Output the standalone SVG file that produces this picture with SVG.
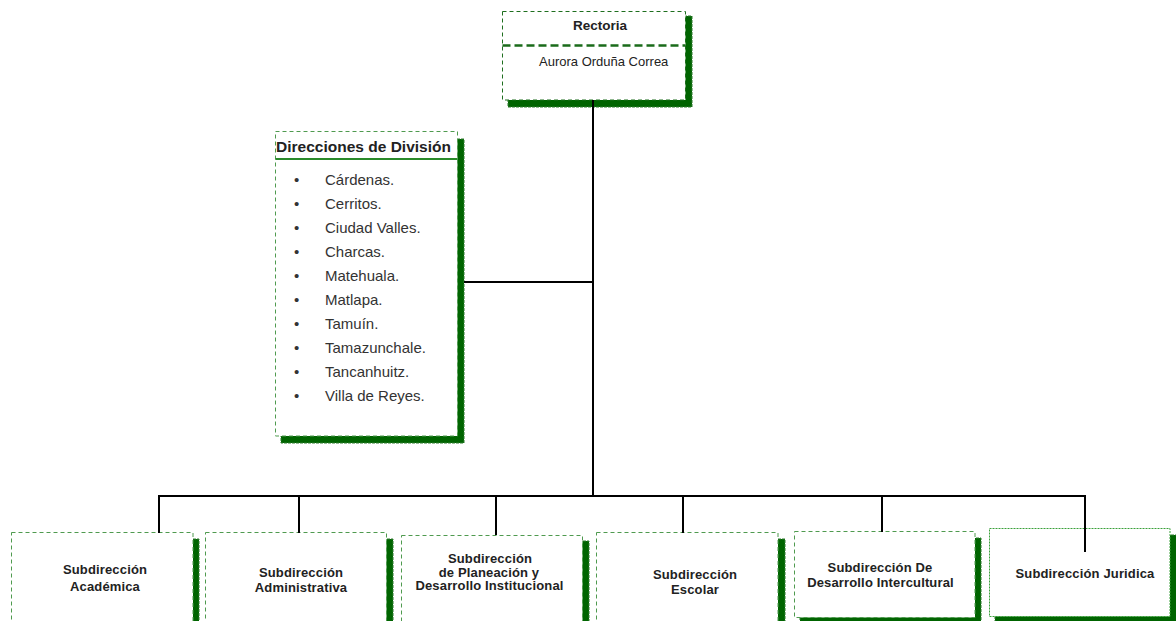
<svg xmlns="http://www.w3.org/2000/svg" width="1176" height="621" viewBox="0 0 1176 621">
<style>
.shadow{fill:#006400;stroke:#2e7d2e;stroke-width:1;stroke-dasharray:3,1}
.box{fill:#ffffff;stroke:#4f9a4f;stroke-width:1;stroke-dasharray:4,3}
.box2{fill:#ffffff;stroke:#3aa03a;stroke-width:1;stroke-dasharray:2,1}
.boxr{fill:#ffffff;stroke:#1e6e1e;stroke-width:1;stroke-dasharray:4,3}
.t{font-family:"Liberation Sans",Arial,sans-serif;fill:#222}
.b{font-weight:bold;font-size:13px;text-anchor:middle;letter-spacing:0.15px}
.li{font-size:15px;fill:#333}
.conn{stroke:#000;stroke-width:2;fill:none}
</style>
<rect width="1176" height="621" fill="#ffffff"/>
<g id="rectoria">
<rect class="shadow" x="508" y="16" width="184" height="91"/>
<rect class="boxr" x="502.5" y="11.5" width="183" height="88.5"/>
<line x1="502.5" y1="45.5" x2="685.5" y2="45.5" stroke="#1a6b1a" stroke-width="2.5" stroke-dasharray="8,4"/>
<text class="t" x="600" y="30" font-size="13.5" font-weight="bold" text-anchor="middle">Rectoria</text>
<text class="t" x="539" y="66" font-size="13">Aurora Orduña Correa</text>
</g>
<g id="direcciones">
<rect class="shadow" x="281" y="139" width="183" height="304"/>
<rect class="box" x="275.5" y="131.5" width="182" height="304.5"/>
<line x1="275.5" y1="159" x2="457.5" y2="159" stroke="#2a8a2a" stroke-width="2"/>
<text class="t" x="276" y="152" font-size="15.5" font-weight="bold" fill="#111" textLength="175">Direcciones de División</text>
<g class="t li">
<text x="294" y="185">•</text><text x="325" y="185">Cárdenas.</text>
<text x="294" y="209">•</text><text x="325" y="209">Cerritos.</text>
<text x="294" y="233">•</text><text x="325" y="233">Ciudad Valles.</text>
<text x="294" y="257">•</text><text x="325" y="257">Charcas.</text>
<text x="294" y="281">•</text><text x="325" y="281">Matehuala.</text>
<text x="294" y="305">•</text><text x="325" y="305">Matlapa.</text>
<text x="294" y="329">•</text><text x="325" y="329">Tamuín.</text>
<text x="294" y="353">•</text><text x="325" y="353">Tamazunchale.</text>
<text x="294" y="377">•</text><text x="325" y="377">Tancanhuitz.</text>
<text x="294" y="401">•</text><text x="325" y="401">Villa de Reyes.</text>
</g>
</g>
<g id="academica">
<rect class="shadow" x="17" y="539" width="182" height="100"/>
<rect class="box" x="11.5" y="532.5" width="181.5" height="100"/>
<text class="t b" x="105" y="574">Subdirección</text>
<text class="t b" x="105" y="591">Académica</text>
</g>
<g id="administrativa">
<rect class="shadow" x="211" y="539" width="182" height="100"/>
<rect class="box" x="205.5" y="532.5" width="181" height="100"/>
<text class="t b" x="301" y="577">Subdirección</text>
<text class="t b" x="301" y="592">Administrativa</text>
</g>
<g id="planeacion">
<rect class="shadow" x="407" y="541" width="182" height="100"/>
<rect class="box" x="401.5" y="535.5" width="181" height="100"/>
<text class="t b" x="490" y="563">Subdirección</text>
<text class="t b" x="489" y="577">de Planeación y</text>
<text class="t b" x="489.5" y="590">Desarrollo Institucional</text>
</g>
<g id="escolar">
<rect class="shadow" x="602" y="539" width="183" height="100"/>
<rect class="box" x="596.5" y="532.5" width="181.5" height="100"/>
<text class="t b" x="695" y="579">Subdirección</text>
<text class="t b" x="695" y="594">Escolar</text>
</g>
<g id="intercultural">
<rect class="shadow" x="800" y="538" width="181" height="86"/>
<rect class="box" x="794.5" y="531.5" width="180.5" height="86"/>
<text class="t b" x="880" y="572">Subdirección De</text>
<text class="t b" x="880.5" y="587">Desarrollo Intercultural</text>
</g>
<g id="juridica">
<rect class="shadow" x="995" y="535" width="182" height="88"/>
<rect class="box2" x="989.5" y="528.5" width="180.5" height="88"/>
<text class="t b" x="1085" y="578">Subdirección Juridica</text>
</g>
<g id="connectors" class="conn">
<line x1="593" y1="100" x2="593" y2="496"/>
<line x1="464" y1="282" x2="593" y2="282"/>
<polyline points="159,533 159,496 1085,496 1085,552"/>
<line x1="299" y1="496" x2="299" y2="533"/>
<line x1="496" y1="496" x2="496" y2="535"/>
<line x1="683" y1="496" x2="683" y2="533"/>
<line x1="882" y1="496" x2="882" y2="532"/>
</g>
</svg>
